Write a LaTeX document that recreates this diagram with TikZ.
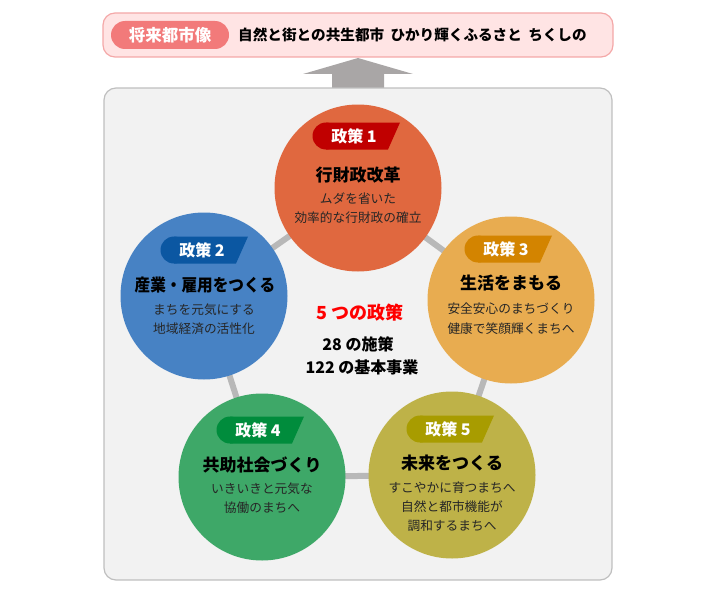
\documentclass[tikz,border=0pt]{standalone}
\usepackage{fontspec}
\setmainfont{Noto Sans CJK JP}[Kerning=Off]
\definecolor{bannerfill}{HTML}{FFE4E4}
\definecolor{bannerline}{HTML}{F4A8A8}
\definecolor{pillc}{HTML}{F27A7A}
\definecolor{arrowc}{HTML}{A9A6A6}
\definecolor{boxfill}{HTML}{F2F2F2}
\definecolor{boxline}{HTML}{BFBFBF}
\definecolor{connc}{HTML}{B8B8B8}
\definecolor{cA}{HTML}{E0683F}
\definecolor{tA}{HTML}{C00000}
\definecolor{cB}{HTML}{4782C4}
\definecolor{tB}{HTML}{0B57A2}
\definecolor{cC}{HTML}{E8AC50}
\definecolor{tC}{HTML}{D38400}
\definecolor{cD}{HTML}{3EA868}
\definecolor{tD}{HTML}{008C3C}
\definecolor{cE}{HTML}{BEB248}
\definecolor{tE}{HTML}{A89C00}
\definecolor{subc}{HTML}{262626}
\definecolor{redtxt}{HTML}{FF0000}
\tikzset{
  conn/.style={line width=6pt, draw=connc},
  pcircle/.style={circle, minimum size=167pt, inner sep=0pt},
  ttl/.style={font=\fontsize{17}{20}\selectfont\bfseries, text=black, inner sep=0pt},
  subtxt/.style={font=\fontsize{12.7}{15}\selectfont, text=subc, inner sep=0pt},
  tagtxt/.style={font=\fontsize{16}{18}\selectfont\bfseries, text=white, inner sep=0pt},
  ctr/.style={font=\fontsize{16}{18}\selectfont\bfseries, text=black, inner sep=0pt},
}
\newcommand\policytag[5]{%
  \fill[#4] (#2-30,#3) circle[radius=13.5pt];
  \fill[#4] (#2-30,#3-13.5) -- (#2+44,#3-13.5) -- (#2+32,#3+13.5) -- (#2-30,#3+13.5) -- cycle;
  \node[tagtxt] (#1) at (#2-2,#3) {#5};
}
\begin{document}
\begin{tikzpicture}[x=1pt,y=-1pt]
\useasboundingbox (0,0) rectangle (720,594);
% banner
\node[draw=bannerline, fill=bannerfill, line width=1.2pt, rounded corners=12pt,
      minimum width=510pt, minimum height=44pt, inner sep=0pt] (banner) at (358,35) {};
\node[fill=pillc, rounded corners=14pt, minimum width=118pt, minimum height=28pt,
      inner sep=0pt, text=white, font=\fontsize{16.5}{18}\selectfont\bfseries] (pill) at (170,35) {将来都市像};
\node[anchor=west, inner sep=0pt, font=\fontsize{14.6}{18}\selectfont\bfseries] (vision) at (238,35)
      {自然と街との共生都市\hspace{3pt} ひかり輝くふるさと\hspace{3pt} ちくしの};
% arrow
\fill[arrowc] (358,58) -- (413,74) -- (384,74) -- (384,90) -- (332,90) -- (332,74) -- (303,74) -- cycle;
% main box
\node[draw=boxline, fill=boxfill, line width=1.2pt, rounded corners=12pt,
      minimum width=508pt, minimum height=492pt, inner sep=0pt] (mainbox) at (358,334) {};
% centers
\coordinate (p1) at (358,188);
\coordinate (p2) at (204,296);
\coordinate (p3) at (511,300);
\coordinate (p4) at (262,477);
\coordinate (p5) at (452,475);
\draw[conn] (p1) -- (p2);
\draw[conn] (p1) -- (p3);
\draw[conn] (p2) -- (p4);
\draw[conn] (p3) -- (p5);
\draw[conn] (p4) -- (p5);
\node[pcircle, fill=cA] (c1) at (p1) {};
\node[pcircle, fill=cB] (c2) at (p2) {};
\node[pcircle, fill=cC] (c3) at (p3) {};
\node[pcircle, fill=cD] (c4) at (p4) {};
\node[pcircle, fill=cE] (c5) at (p5) {};
% policy 1
\policytag{tag1}{356}{136}{tA}{政策 1}
\node[ttl] (t1) at (358,175) {行財政改革};
\node[subtxt] (s1a) at (358,199) {ムダを省いた};
\node[subtxt] (s1b) at (358,218) {効率的な行財政の確立};
% policy 2
\policytag{tag2}{204}{250}{tB}{政策 2}
\node[ttl] (t2) at (205,285) {\scalebox{0.92}[1]{産業・雇用をつくる}};
\node[subtxt] (s2a) at (204,310) {まちを元気にする};
\node[subtxt] (s2b) at (204,329) {地域経済の活性化};
% policy 3
\policytag{tag3}{508}{249}{tC}{政策 3}
\node[ttl] (t3) at (511,283) {生活をまもる};
\node[subtxt] (s3a) at (511,309) {安全安心のまちづくり};
\node[subtxt] (s3b) at (511,329) {健康で笑顔輝くまちへ};
% policy 4
\policytag{tag4}{260}{430}{tD}{政策 4}
\node[ttl] (t4) at (262,465) {共助社会づくり};
\node[subtxt] (s4a) at (262,489) {いきいきと元気な};
\node[subtxt] (s4b) at (262,508) {協働のまちへ};
% policy 5
\policytag{tag5}{450}{429}{tE}{政策 5}
\node[ttl] (t5) at (452,463) {未来をつくる};
\node[subtxt] (s5a) at (452,488) {すこやかに育つまちへ};
\node[subtxt] (s5b) at (452,507) {自然と都市機能が};
\node[subtxt] (s5c) at (452,526) {調和するまちへ};
% centre
\node[inner sep=0pt, text=redtxt, font=\fontsize{18}{20}\selectfont\bfseries] (five) at (360,313) {5 つの政策};
\node[ctr] (m1) at (358,344) {28 の施策};
\node[ctr] (m2) at (362,367) {122 の基本事業};
\end{tikzpicture}
\end{document}
